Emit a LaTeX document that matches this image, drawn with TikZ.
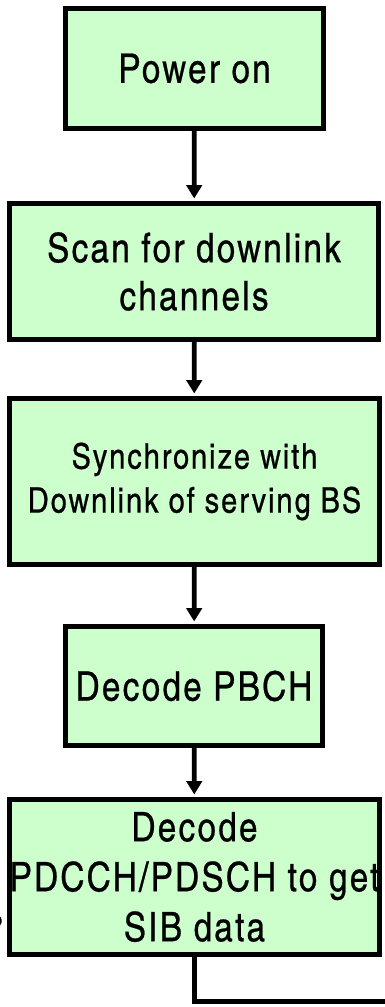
\documentclass[tikz,border=0pt]{standalone}
\usepackage{fontspec}
\setmainfont[LetterSpace=5.5, FakeBold=0.6]{TeX Gyre Heros Cn}
\usetikzlibrary{arrows.meta}
\definecolor{boxgreen}{HTML}{CCFFCC}
\tikzset{
  stepbox/.style={draw=black, fill=boxgreen, line width=3.75pt, inner sep=0pt,
    align=center, font=\fontsize{30.5pt}{36pt}\selectfont},
  smalltext/.style={font=\fontsize{26.5pt}{33pt}\selectfont},
  flow/.style={line width=3.6pt, -{Triangle[width=11.5pt,length=10pt]},
    shorten >=1.9pt},
  exitline/.style={line width=3.6pt}
}
\begin{document}
\begin{tikzpicture}[x=0.75pt,y=-0.75pt]
\useasboundingbox (0,0) rectangle (385,1007);

% process steps
\node[stepbox, minimum width=258pt*0.75, minimum height=120pt*0.75]
  (power) at (194.5,68.5) {Power on};
\node[stepbox, minimum width=369pt*0.75, minimum height=136pt*0.75]
  (scan) at (194,271.5) {Scan for downlink\\channels};
\node[stepbox, smalltext, minimum width=370pt*0.75, minimum height=166pt*0.75]
  (sync) at (194.5,481.5) {Synchronize with\\Downlink of serving BS};
\node[stepbox, minimum width=257pt*0.75, minimum height=119pt*0.75]
  (pbch) at (194,686) {Decode PBCH};
\node[stepbox, font=\fontsize{30.5pt}{37.5pt}\selectfont,
  minimum width=370pt*0.75, minimum height=155pt*0.75]
  (sib) at (194.5,877) {Decode\\PDCCH/PDSCH to get\\SIB data};

% connectors
\draw[flow] (power) -- (scan);
\draw[flow] (scan) -- (sync);
\draw[flow] (sync) -- (pbch);
\draw[flow] (pbch) -- (sib);

\coordinate (bend) at (194.5,1001.7);
\coordinate (exit) at (392,1001.7);
\draw[exitline] (sib.south) -- (bend) -- (exit);

% cut-off stroke at the left edge
\draw[line width=1.5pt*0.75] (-2,926) arc[start angle=60, end angle=-60, radius=6];
\end{tikzpicture}
\end{document}
